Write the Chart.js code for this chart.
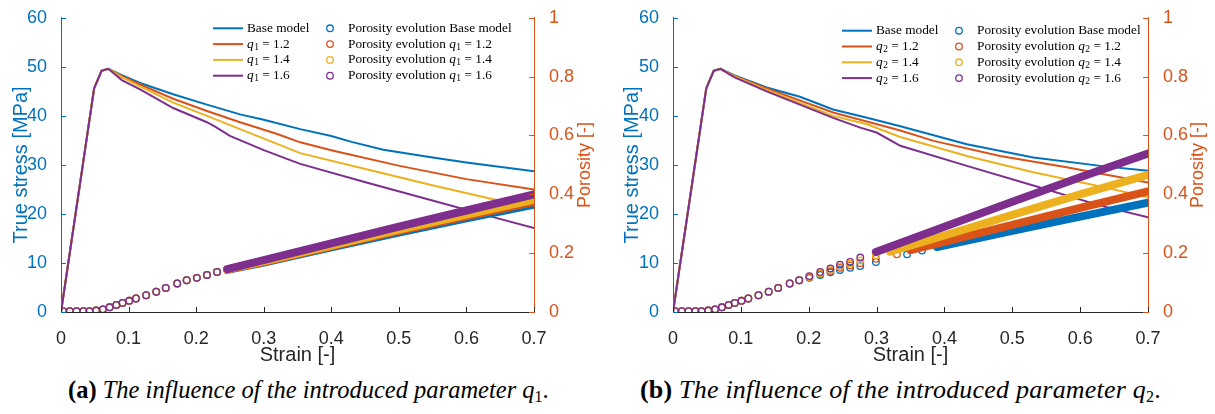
<!DOCTYPE html>
<html>
<head>
<meta charset="utf-8">
<script src="https://cdn.jsdelivr.net/npm/chart.js@4.4.0/dist/chart.umd.min.js"></script>
<style>
  html, body { margin: 0; padding: 0; background: #fff; }
  #page { position: relative; width: 1215px; height: 414px; overflow: hidden; background: #fff; }
  .panel { position: absolute; top: 0; height: 370px; }
  .caption { position: absolute; top: 376px; font-family: 'Liberation Serif', 'Times New Roman', serif;
             font-size: 24.5px; color: #000; white-space: nowrap; }
  .caption sub { font-size: 16px; vertical-align: -4px; line-height: 0; }
  #capB { top: 375px; font-size: 26px; letter-spacing: 0.2px; }
</style>
</head>
<body>
<div id="page">
  <div class="panel" style="left:0;width:607px"><canvas id="chartA"></canvas></div>
  <div class="panel" style="left:607px;width:608px"><canvas id="chartB"></canvas></div>
  <div class="caption" style="left:68px"><b>(a)</b> <i>The influence of the introduced parameter q</i><sub>1</sub>.</div>
  <div class="caption" id="capB" style="left:640px"><b>(b)</b> <i>The influence of the introduced parameter q</i><sub>2</sub>.</div>
</div>
<script>
const blue = '#0072BD', orange = '#D95319', yellow = '#EDB120', purple = '#7E2F8E';
const seriesColors = [blue, orange, yellow, purple];
const seriesLabels = ['Base model', '1.2', '1.4', '1.6'];

const xTicks = [0, 0.1, 0.2, 0.3, 0.4, 0.5, 0.6, 0.7];
const stressTicks = [0, 10, 20, 30, 40, 50, 60];
const porosityTicks = [0, 0.2, 0.4, 0.6, 0.8, 1];

// elastic rise shared by every run
const riseStrain = [0, 0.049, 0.06, 0.07];
const riseStress = [0, 45.6, 49.2, 49.6];

// (a) q1 runs, softening branch of true stress [MPa]
const aBaseStrain = [0.09, 0.117, 0.166, 0.216, 0.265, 0.30, 0.354, 0.40, 0.43, 0.477, 0.55, 0.60, 0.70];
const aBaseStress = [48.3, 46.7, 44.4, 42.3, 40.3, 39.2, 37.3, 35.9, 34.7, 33.1, 31.5, 30.5, 28.7];
const aQ12Strain = [0.09, 0.117, 0.166, 0.216, 0.265, 0.32, 0.354, 0.403, 0.501, 0.60, 0.70];
const aQ12Stress = [48.1, 46.4, 43.5, 41.0, 38.7, 36.3, 34.6, 32.9, 29.8, 27.1, 25.0];
const aQ14Strain = [0.09, 0.117, 0.166, 0.216, 0.265, 0.354, 0.452, 0.551, 0.649, 0.70];
const aQ14Stress = [47.9, 46.0, 42.7, 40.0, 37.3, 32.4, 29.1, 25.8, 22.7, 21.1];
const aQ16Strain = [0.09, 0.117, 0.166, 0.216, 0.228, 0.25, 0.30, 0.354, 0.452, 0.551, 0.63, 0.70];
const aQ16Stress = [47.3, 45.4, 41.6, 38.7, 37.8, 35.9, 33.0, 30.2, 26.4, 22.7, 19.7, 17.1];

// (b) q2 runs
const bBaseStrain = [0.09, 0.138, 0.187, 0.236, 0.286, 0.335, 0.433, 0.531, 0.63, 0.70];
const bBaseStress = [48.3, 45.8, 43.9, 41.3, 39.6, 37.9, 34.2, 31.5, 29.8, 28.8];
const bQ12Strain = [0.09, 0.138, 0.236, 0.335, 0.384, 0.482, 0.58, 0.70];
const bQ12Stress = [48.2, 45.6, 40.7, 37.0, 34.9, 31.8, 29.5, 26.4];
const bQ14Strain = [0.09, 0.138, 0.236, 0.286, 0.335, 0.433, 0.531, 0.63, 0.70];
const bQ14Stress = [48.1, 45.3, 40.0, 38.3, 35.7, 31.8, 28.5, 25.6, 23.4];
const bQ16Strain = [0.09, 0.138, 0.187, 0.236, 0.276, 0.30, 0.335, 0.433, 0.531, 0.63, 0.70];
const bQ16Stress = [47.9, 45.0, 42.3, 39.6, 37.6, 36.6, 33.9, 29.8, 25.8, 21.7, 19.3];

// porosity increments written out before the solver refines its steps
const poroStrain0 = [0.003, 0.013, 0.023, 0.033, 0.042, 0.052, 0.062, 0.072, 0.082, 0.091, 0.101, 0.111, 0.126, 0.141, 0.155, 0.172, 0.186];
const poro0 = [0.003, 0.003, 0.003, 0.003, 0.003, 0.005, 0.009, 0.016, 0.024, 0.031, 0.038, 0.046, 0.057, 0.069, 0.082, 0.097, 0.108];

// (a) porosity: last coarse steps, then densely written increments
const aPoroStrain1 = [0.201, 0.216, 0.231];
const aPoro1 = [0.116, 0.126, 0.136];
const aDenseStrain = [0.246, 0.30, 0.40, 0.50, 0.60, 0.70];
const aBaseDense = [0.143, 0.168, 0.220, 0.270, 0.318, 0.365];
const aQ12Dense = [0.144, 0.170, 0.223, 0.276, 0.325, 0.374];
const aQ14Dense = [0.145, 0.172, 0.226, 0.280, 0.331, 0.382];
const aQ16Dense = [0.146, 0.176, 0.233, 0.290, 0.345, 0.400];

// (b) porosity
const bBaseSparseStrain = [0.201, 0.217, 0.232, 0.246, 0.261, 0.276, 0.299, 0.345, 0.367];
const bBaseSparse = [0.116, 0.126, 0.135, 0.143, 0.150, 0.156, 0.170, 0.196, 0.209];
const bBaseDenseStrain = [0.389, 0.50, 0.60, 0.70];
const bBaseDense = [0.221, 0.276, 0.324, 0.372];
const bQ12SparseStrain = [0.201, 0.217, 0.232, 0.246, 0.261, 0.276, 0.299, 0.33];
const bQ12Sparse = [0.118, 0.129, 0.139, 0.150, 0.158, 0.166, 0.181, 0.196];
const bQ12DenseStrain = [0.35, 0.40, 0.50, 0.60, 0.70];
const bQ12Dense = [0.210, 0.238, 0.296, 0.354, 0.410];
const bQ14SparseStrain = [0.201, 0.217, 0.232, 0.246, 0.261, 0.276, 0.299];
const bQ14Sparse = [0.120, 0.132, 0.143, 0.155, 0.164, 0.175, 0.193];
const bQ14DenseStrain = [0.32, 0.40, 0.50, 0.60, 0.70];
const bQ14Dense = [0.205, 0.260, 0.330, 0.400, 0.466];
const bQ16SparseStrain = [0.201, 0.217, 0.232, 0.246, 0.261, 0.276];
const bQ16Sparse = [0.122, 0.136, 0.148, 0.161, 0.170, 0.185];
const bQ16DenseStrain = [0.299, 0.40, 0.50, 0.60, 0.70];
const bQ16Dense = [0.204, 0.290, 0.375, 0.458, 0.539];

const sansFont = "'Liberation Sans', Arial, Helvetica, sans-serif";
const serifFont = "'Liberation Serif', 'Times New Roman', serif";

function pairs(xs, ys) {
  return xs.map((x, i) => ({ x: x, y: ys[i] }));
}

function fmt(v) {
  return String(+v.toFixed(1));
}

// MATLAB style ticks pointing into the axes
const inwardTicks = {
  id: 'inwardTicks',
  afterDraw(chart) {
    const { ctx, chartArea: a, scales } = chart;
    const len = 5;
    ctx.save();
    ctx.lineWidth = 1;
    ctx.strokeStyle = '#262626';
    xTicks.forEach(v => {
      const px = Math.round(scales.x.getPixelForValue(v)) + 0.5;
      ctx.beginPath(); ctx.moveTo(px, a.bottom); ctx.lineTo(px, a.bottom - len); ctx.stroke();
    });
    ctx.strokeStyle = blue;
    stressTicks.forEach(v => {
      const py = Math.round(scales.y.getPixelForValue(v)) + 0.5;
      ctx.beginPath(); ctx.moveTo(a.left, py); ctx.lineTo(a.left + len, py); ctx.stroke();
    });
    ctx.strokeStyle = orange;
    porosityTicks.forEach(v => {
      const py = Math.round(scales.y1.getPixelForValue(v)) + 0.5;
      ctx.beginPath(); ctx.moveTo(a.right, py); ctx.lineTo(a.right - len, py); ctx.stroke();
    });
    ctx.restore();
  }
};

// right axis title reads bottom to top
const rightTitle = {
  id: 'rightTitle',
  afterDraw(chart, args, opts) {
    const { ctx, chartArea: a } = chart;
    ctx.save();
    ctx.translate(opts.x, (a.top + a.bottom) / 2);
    ctx.rotate(-Math.PI / 2);
    ctx.font = '18px ' + sansFont;
    ctx.fillStyle = orange;
    ctx.textAlign = 'center';
    ctx.textBaseline = 'middle';
    ctx.fillText('Porosity [-]', 0, 0);
    ctx.restore();
  }
};

// two column legend: stress lines on the left, porosity markers on the right
const pairLegend = {
  id: 'pairLegend',
  afterDraw(chart, args, o) {
    const ctx = chart.ctx;
    const size = 13.3;
    ctx.save();
    ctx.textBaseline = 'middle';
    ctx.fillStyle = '#000';

    function label(x, y, prefix, i) {
      ctx.font = size + 'px ' + serifFont;
      ctx.fillStyle = '#000';
      if (prefix) { ctx.fillText(prefix, x, y); x += ctx.measureText(prefix).width; }
      if (i === 0) { ctx.fillText(seriesLabels[0], x, y); return; }
      ctx.font = 'italic ' + size + 'px ' + serifFont;
      ctx.fillText('q', x, y); x += ctx.measureText('q').width + 0.5;
      ctx.font = '9.5px ' + serifFont;
      ctx.fillText(o.sub, x, y + 3); x += ctx.measureText(o.sub).width;
      ctx.font = size + 'px ' + serifFont;
      ctx.fillText(' = ' + seriesLabels[i], x, y);
    }

    seriesColors.forEach((c, i) => {
      const y = o.rowY + i * o.rowStep;
      ctx.strokeStyle = c;
      ctx.lineWidth = 2;
      ctx.beginPath(); ctx.moveTo(o.lineX, y); ctx.lineTo(o.lineX + 30, y); ctx.stroke();
      label(o.lineX + 34, y, '', i);
      ctx.lineWidth = 1.3;
      ctx.beginPath(); ctx.arc(o.circleX, y, 3.3, 0, Math.PI * 2); ctx.stroke();
      label(o.circleX + 18, y, 'Porosity evolution ', i);
    });
    ctx.restore();
  }
};

function buildChart(id, cfg) {
  const datasets = [];
  cfg.stress.forEach((s, i) => {
    datasets.push({
      yAxisID: 'y',
      data: pairs(riseStrain.concat(s[0]), riseStress.concat(s[1])),
      borderColor: seriesColors[i],
      borderWidth: 2,
      pointRadius: 0,
      order: 8 - i
    });
  });
  cfg.porosity.forEach((p, i) => {
    datasets.push({
      yAxisID: 'y1',
      data: pairs(p[0], p[1]),
      showLine: false,
      pointStyle: 'circle',
      pointRadius: 3.3,
      pointBorderWidth: 1.3,
      pointBorderColor: seriesColors[i],
      pointBackgroundColor: 'rgba(0,0,0,0)',
      order: 4 - i
    });
    datasets.push({
      yAxisID: 'y1',
      data: pairs(p[2], p[3]),
      borderColor: seriesColors[i],
      borderWidth: 8,
      borderCapStyle: 'round',
      pointRadius: 0,
      order: 4 - i
    });
  });

  const tickFont = { family: sansFont, size: 18 };
  const titleFont = { family: sansFont, size: 20 };

  return new Chart(document.getElementById(id), {
    type: 'line',
    data: { datasets: datasets },
    plugins: [inwardTicks, rightTitle, pairLegend],
    options: {
      responsive: true,
      maintainAspectRatio: false,
      animation: false,
      events: [],
      layout: { padding: { top: 16, left: 0, right: 0, bottom: 0 } },
      plugins: {
        legend: { display: false },
        tooltip: { enabled: false },
        rightTitle: { x: cfg.rightTitleX },
        pairLegend: cfg.legend
      },
      scales: {
        x: {
          type: 'linear', min: 0, max: 0.7,
          afterBuildTicks: s => { s.ticks = xTicks.map(v => ({ value: v })); },
          ticks: { color: '#262626', font: tickFont, padding: 8, maxRotation: 0, autoSkip: false, callback: fmt },
          grid: { display: false },
          border: { display: true, color: '#262626', width: 1 },
          title: { display: true, text: 'Strain [-]', color: '#262626', font: titleFont, padding: { top: 0, bottom: 3 } },
          afterFit: s => { s.height = 58; }
        },
        y: {
          position: 'left', min: 0, max: 60,
          afterBuildTicks: s => { s.ticks = stressTicks.map(v => ({ value: v })); },
          ticks: { color: blue, font: tickFont, padding: 6, callback: v => String(v) },
          grid: { display: false },
          border: { display: true, color: blue, width: 1 },
          title: { display: true, text: 'True stress [MPa]', color: blue, font: titleFont, padding: { top: cfg.leftTitlePad, bottom: 0 } },
          afterFit: s => { s.width = cfg.leftWidth; }
        },
        y1: {
          position: 'right', min: 0, max: 1,
          afterBuildTicks: s => { s.ticks = porosityTicks.map(v => ({ value: v })); },
          ticks: { color: orange, font: tickFont, padding: 7, callback: fmt },
          grid: { display: false },
          border: { display: true, color: orange, width: 1 },
          afterFit: s => { s.width = cfg.rightWidth; }
        }
      }
    }
  });
}

buildChart('chartA', {
  leftWidth: 61, rightWidth: 73, leftTitlePad: 9, rightTitleX: 585,
  legend: { lineX: 213, circleX: 330, rowY: 28.3, rowStep: 15.8, sub: '1' },
  stress: [[aBaseStrain, aBaseStress], [aQ12Strain, aQ12Stress], [aQ14Strain, aQ14Stress], [aQ16Strain, aQ16Stress]],
  porosity: [
    [poroStrain0.concat(aPoroStrain1), poro0.concat(aPoro1), aDenseStrain, aBaseDense],
    [poroStrain0.concat(aPoroStrain1), poro0.concat(aPoro1), aDenseStrain, aQ12Dense],
    [poroStrain0.concat(aPoroStrain1), poro0.concat(aPoro1), aDenseStrain, aQ14Dense],
    [poroStrain0.concat(aPoroStrain1), poro0.concat(aPoro1), aDenseStrain, aQ16Dense]
  ]
});

buildChart('chartB', {
  leftWidth: 66, rightWidth: 67, leftTitlePad: 13, rightTitleX: 591,
  legend: { lineX: 235, circleX: 352, rowY: 30.7, rowStep: 15.8, sub: '2' },
  stress: [[bBaseStrain, bBaseStress], [bQ12Strain, bQ12Stress], [bQ14Strain, bQ14Stress], [bQ16Strain, bQ16Stress]],
  porosity: [
    [poroStrain0.concat(bBaseSparseStrain), poro0.concat(bBaseSparse), bBaseDenseStrain, bBaseDense],
    [poroStrain0.concat(bQ12SparseStrain), poro0.concat(bQ12Sparse), bQ12DenseStrain, bQ12Dense],
    [poroStrain0.concat(bQ14SparseStrain), poro0.concat(bQ14Sparse), bQ14DenseStrain, bQ14Dense],
    [poroStrain0.concat(bQ16SparseStrain), poro0.concat(bQ16Sparse), bQ16DenseStrain, bQ16Dense]
  ]
});
</script>
</body>
</html>
